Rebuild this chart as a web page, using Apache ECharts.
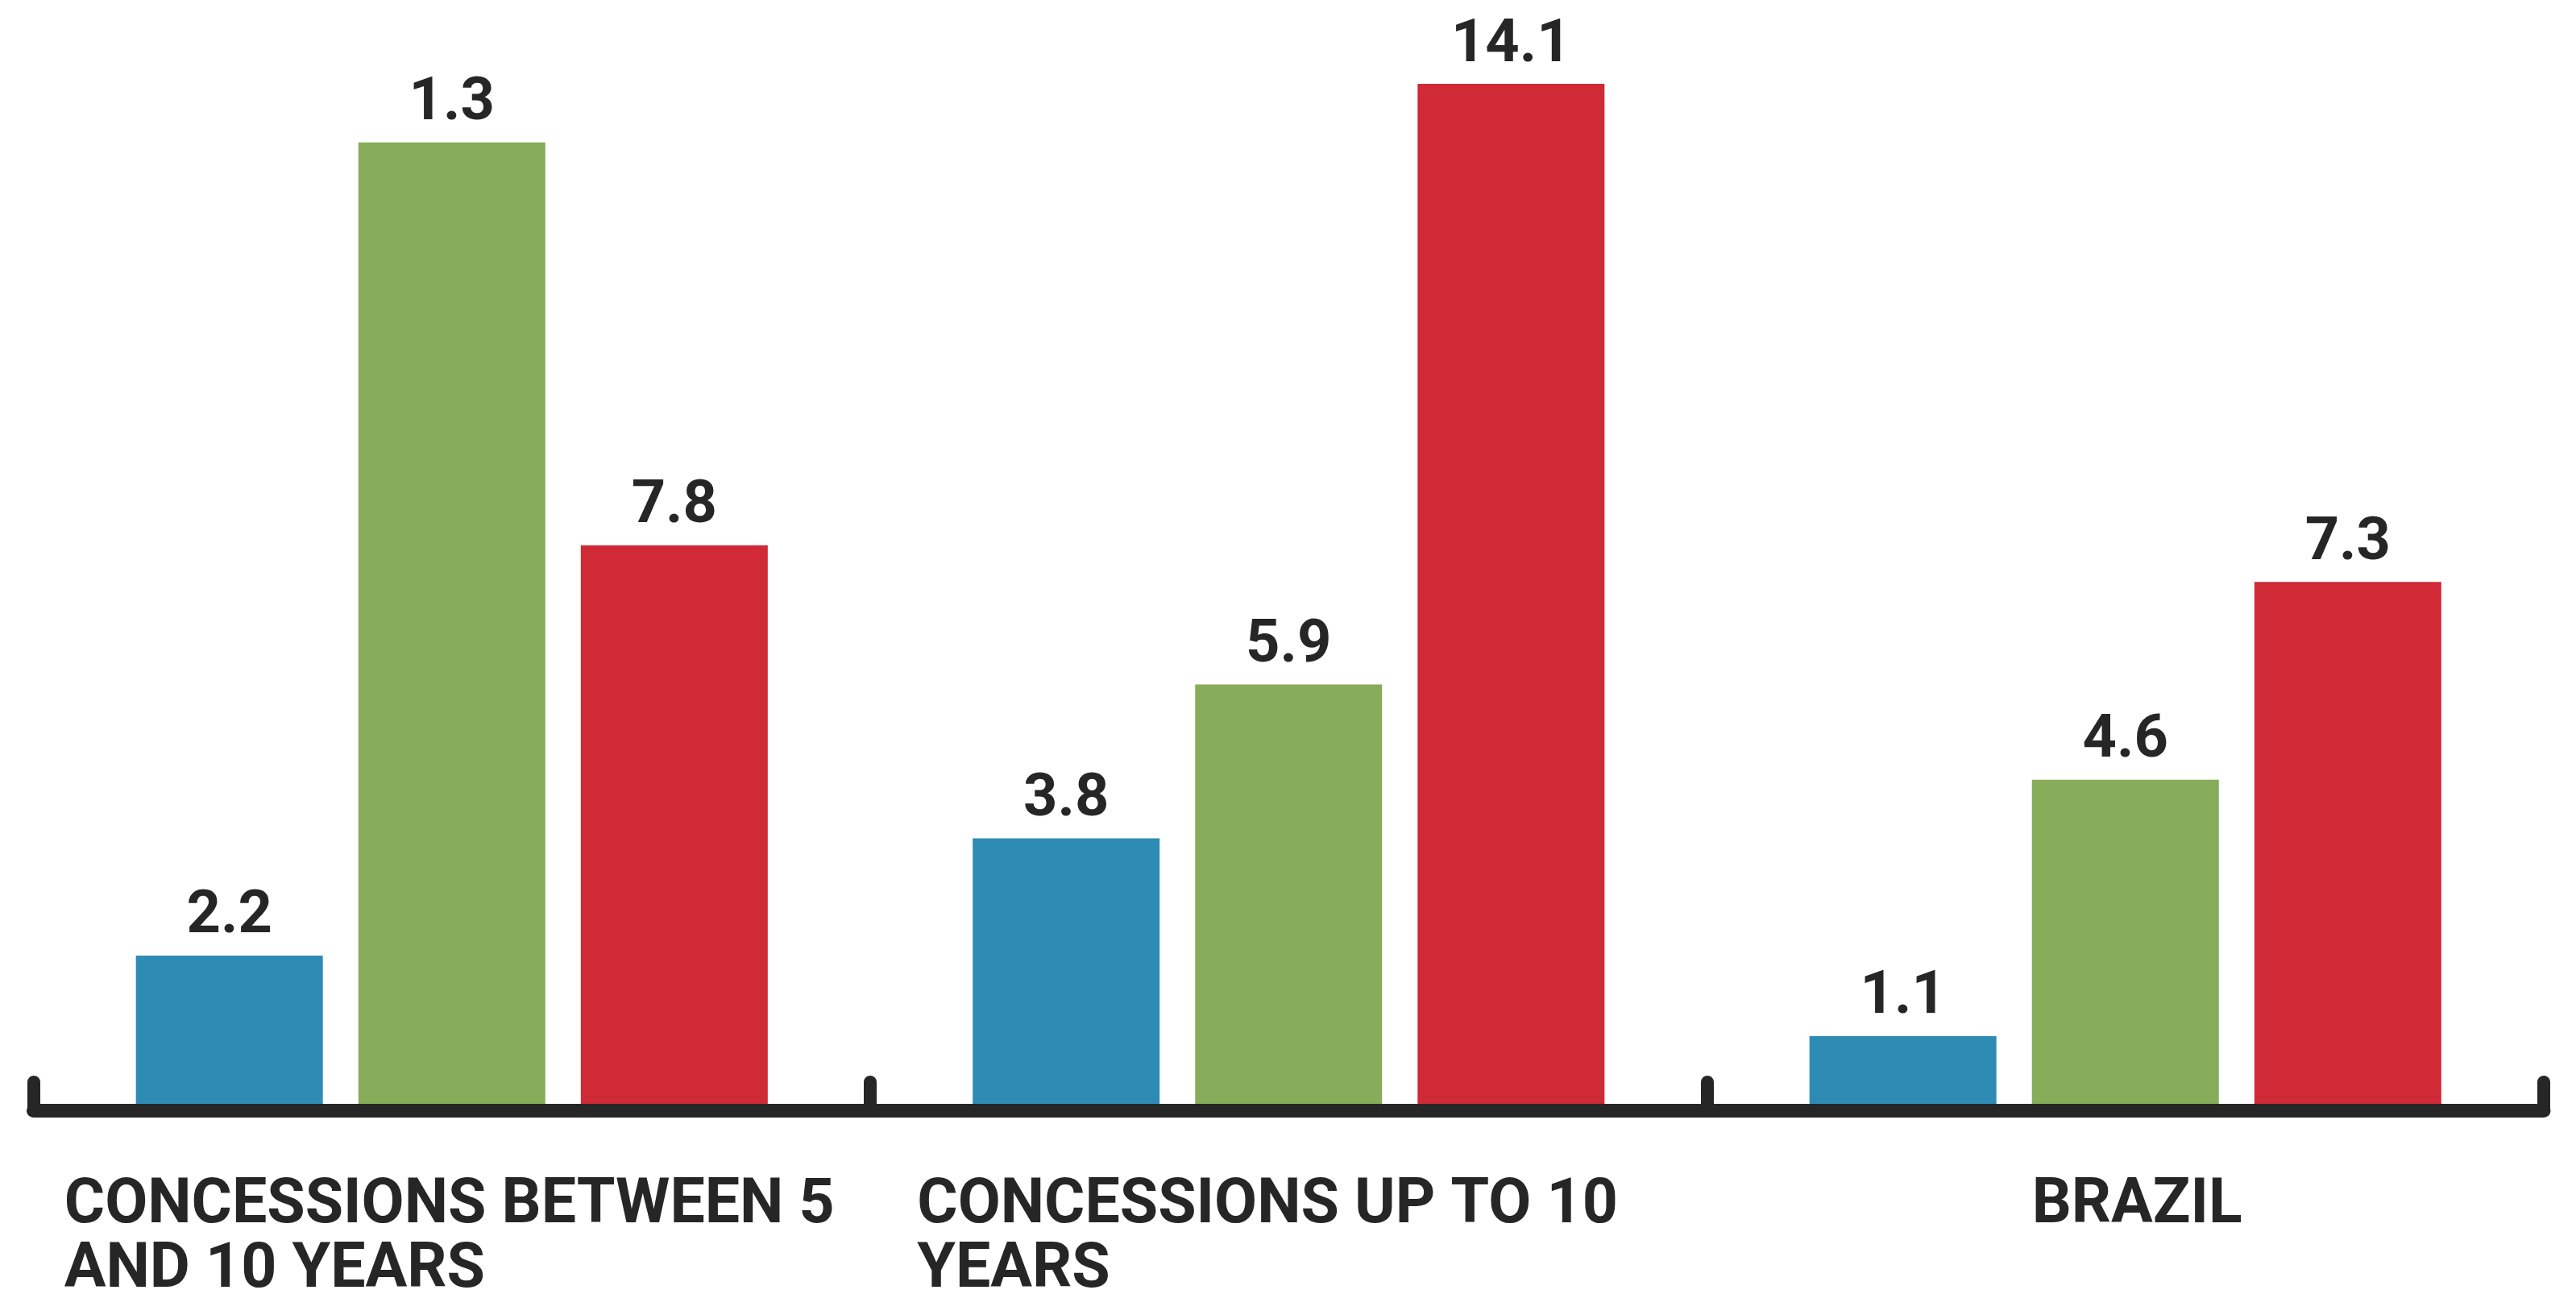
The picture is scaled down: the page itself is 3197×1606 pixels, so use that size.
<!DOCTYPE html>
<html>
<head>
<meta charset="utf-8">
<script src="https://cdn.jsdelivr.net/npm/echarts@6/dist/echarts.min.js"></script>
<style>html,body{margin:0;padding:0;background:#fff}#c{width:3197px;height:1606px}</style>
</head>
<body>
<div id="c"></div>
<script>
const categories = ['CONCESSIONS BETWEEN 5\nAND 10 YEARS', 'CONCESSIONS UP TO 10\nYEARS', 'BRAZIL'];
const blueValues = [2.2, 3.8, 1.1];
const greenValues = [13.3, 5.9, 4.6];
const redValues = [7.8, 14.1, 7.3];
const blueLabels = ['2.2', '3.8', '1.1'];
const greenLabels = ['1.3', '5.9', '4.6'];
const redLabels = ['7.8', '14.1', '7.3'];

const chart = echarts.init(document.getElementById('c'), null, {renderer: 'canvas'});
const ink = '#262626';
const font = 'Roboto';
function valLabel(labels) {
  return {
    show: true, position: 'top', distance: 10,
    fontFamily: font, fontWeight: 'bold', fontSize: 74, color: ink,
    formatter: p => labels[p.dataIndex]
  };
}
const catStyle = {fontFamily: font, fontWeight: 'bold', fontSize: 77, lineHeight: 80, color: ink};
chart.setOption({
  animation: false,
  grid: {left: 41.5, right: 40, top: 22.2, bottom: 220, containLabel: false, outerBoundsMode: 'none'},
  xAxis: {
    type: 'category', data: categories, z: 5, offset: -8,
    axisLine: {lineStyle: {color: ink, width: 17, cap: 'round'}},
    axisTick: {show: true, inside: true, length: 35, lineStyle: {color: ink, width: 16, cap: 'round'}},
    axisLabel: {
      margin: 80, interval: 0,
      formatter: (v, i) => '{c' + i + '|' + v + '}',
      rich: {
        c0: Object.assign({width: 962, align: 'left'}, catStyle),
        c1: Object.assign({width: 922, align: 'left'}, catStyle),
        c2: Object.assign({width: 290, align: 'right'}, catStyle)
      }
    }
  },
  yAxis: {type: 'value', min: 0, max: 15, show: false, splitLine: {show: false}},
  series: [
    {type: 'bar', data: blueValues, barWidth: 232, barGap: '19%', itemStyle: {color: '#2E8BB4'}, label: valLabel(blueLabels)},
    {type: 'bar', data: greenValues, barWidth: 232, barGap: '19%', itemStyle: {color: '#87AC5A'}, label: valLabel(greenLabels)},
    {type: 'bar', data: redValues, barWidth: 232, barGap: '19%', itemStyle: {color: '#CF2A36'}, label: valLabel(redLabels)}
  ]
});
</script>
</body>
</html>
